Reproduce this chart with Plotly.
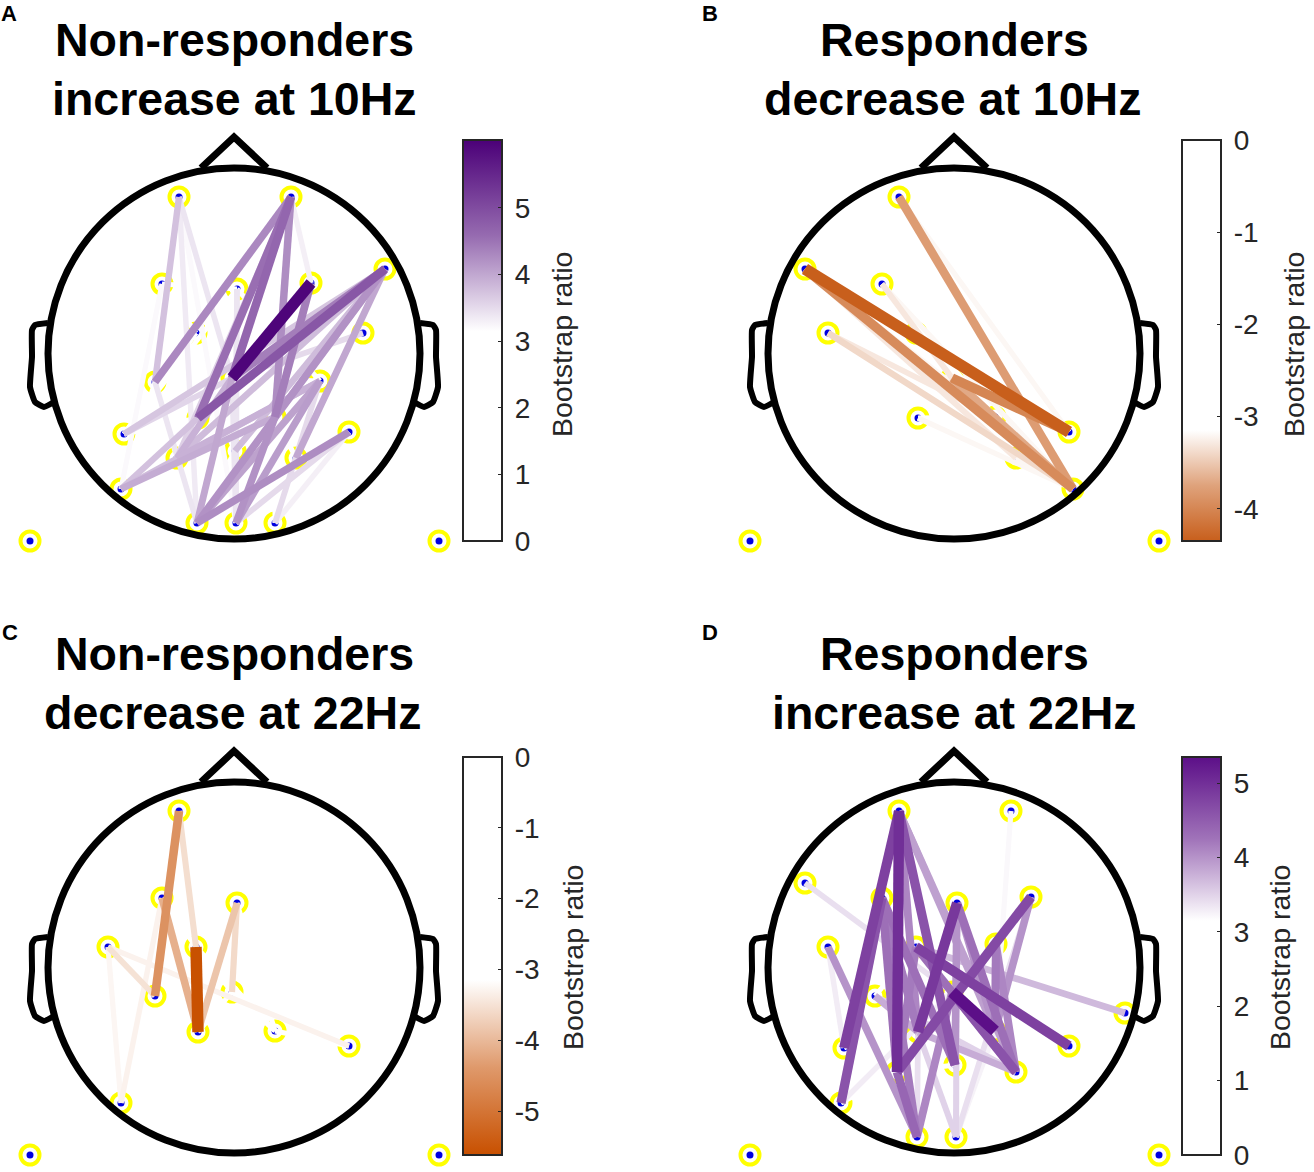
import numpy as np
import plotly.graph_objects as go

WIDTH = 1314
HEIGHT = 1172

# electrode positions, head centre = 0,0 and y pointing up
ELECTRODES = ["Fp1", "Fp2", "F7", "F3", "Fz", "F4", "F8", "T3", "C3", "C4", "T4", "CP5", "Cz", "CP6",
              "FT", "P7", "CP1", "CP2", "P8", "P3", "Pz", "P4", "PO7", "PO8", "O1", "Oz", "O2", "M1", "M2"]
ELECTRODE_X = [-55, 57, -149, -72, 3, 77, 151, -126, -38, 42, 129, -79, -2, 86,
               171, -110, -36, 41, 115, -57, 1, 62, -113, 119, -37, 2, 41, -204, 205]
ELECTRODE_Y = [157, 157, 85, 70, 65, 71, 85, 21, 21, 24, 21, -28, -24, -27,
               -45, -80, -64, -63, -78, -104, -97, -104, -135, -135, -169, -169, -169, -187, -187]

# head outline pieces
NOSE_X = [-33, 0, 33]
NOSE_Y = [186, 217, 186]
EAR_X = [-186, -199, -202, -202, -204, -199, -190, -180]
EAR_Y = [31, 29, 24, -3, -33, -48, -53, -48]

# edges, one list per panel: from, to, bootstrap ratio
# (values under the colour threshold come out white, they only nibble at the rings)
A_FROM = ["Fp1", "F3", "Fp1", "Fp2", "O2", "Oz", "Cz", "CP5", "Fp1", "Fp1", "P7", "Cz", "F8", "PO7", "PO7",
          "Cz", "CP6", "CP6", "F8", "F8", "F8", "Fp2", "P8", "Fp2", "F4", "F8", "Fp2", "Fp2", "F8", "F4",
          "F8", "Fp2", "F8", "CP6", "CP6", "O2", "Oz", "Oz", "P3", "Fz",
          "F3", "F3", "Fz", "Fz", "Fz", "C3", "C3", "C3", "CP5", "CP6", "CP6", "P7", "P3", "Pz", "Pz", "P4", "O1", "Oz", "O2", "PO7"]
A_TO = ["O1", "PO7", "Cz", "F4", "P8", "P8", "Oz", "O1", "CP5", "Oz", "Cz", "O1", "P3", "CP1", "CP2",
        "T4", "O1", "Oz", "P4", "O1", "Cz", "CP5", "O1", "CP2", "CP2", "CP1", "CP1", "Cz", "Pz", "Cz",
        "P7", "P3", "CP2", "P3", "PO7", "CP6", "CP2", "Fz", "Cz", "Pz",
        "Pz", "CP5", "P7", "P3", "F3", "CP5", "P7", "F3", "P3", "Fz", "Cz", "CP1", "CP1", "Cz", "CP2", "CP2", "Pz", "Pz", "CP2", "CP5"]
A_VALUES = [3.35, 3.2, 3.4, 3.3, 3.3, 3.5, 3.4, 3.4, 3.75, 3.2, 3.55, 4.0, 3.8, 3.75, 3.95,
            3.5, 4.05, 4.1, 4.0, 4.2, 4.4, 4.3, 4.25, 4.25, 4.4, 4.85, 4.55, 4.65, 3.8, 5.95,
            3.7, 3.6, 4.0, 3.9, 3.8, 3.5, 4.2, 3.4, 3.9, 3.4,
            2.9, 2.9, 2.9, 2.9, 2.9, 2.9, 2.9, 2.9, 2.9, 2.9, 2.9, 2.9, 2.9, 2.9, 2.9, 2.9, 2.9, 2.9, 2.9, 2.9]

B_FROM = ["Fp1", "CP1", "F3", "Cz", "F7", "T3", "F3", "T3", "C3", "Cz", "Fp1", "F7", "Cz", "F7", "F7", "P4",
          "CP1", "CP1", "C3", "Cz", "CP2", "P4"]
B_TO = ["P8", "PO8", "Cz", "CP2", "P4", "CP2", "PO8", "PO8", "CP2", "PO8", "PO8", "PO8", "P8", "P8", "CP2", "PO8",
        "P4", "CP2", "P4", "P4", "F3", "F3"]
B_VALUES = [-3.2, -3.2, -3.3, -3.2, -3.3, -3.3, -3.2, -3.4, -2.9, -3.7, -3.8, -3.95, -4.0, -4.35, -3.2, -3.2,
            -2.9, -2.9, -2.9, -2.9, -2.9, -2.9]

C_FROM = ["Cz", "T3", "T3", "F3", "T3", "Fp1", "Fz", "Fz", "F3", "Fp1", "C3", "CP2",
          "C3", "CP2", "CP2", "Cz", "F3"]
C_TO = ["CP2", "PO7", "P8", "PO7", "CP5", "C3", "Cz", "CP1", "CP1", "CP5", "CP1", "P8",
        "Cz", "C3", "Fz", "CP1", "C3"]
C_VALUES = [-2.9, -3.25, -3.3, -3.3, -3.5, -3.55, -3.6, -3.85, -4.1, -4.5, -5.6, -2.9,
            -2.9, -2.9, -2.9, -2.9, -2.9]

D_FROM = ["Fp2", "Oz", "T3", "F7", "PO7", "CP5", "O1", "Oz", "Fz", "TP", "CP1", "F4", "Fp1", "C4", "F3",
          "T3", "Cz", "C3", "Fz", "F3", "P3", "F4", "Fp1", "Cz", "Fz", "F4", "F3", "Fp1", "C3", "Fp1", "Cz",
          "Fp1", "F3", "F3", "Fp1", "Fz", "CP5", "Fz", "C4", "C3",
          "C3", "C4", "C3", "C4", "P7", "Pz", "PO7", "CP5"]
D_TO = ["CP2", "CP2", "P7", "Cz", "Cz", "P4", "CP1", "CP1", "Oz", "C3", "P4", "CP2", "CP2", "CP2", "P3",
        "O1", "O1", "P4", "P4", "O1", "O1", "Oz", "Pz", "P4", "CP1", "P3", "PO7", "P7", "P8", "P3", "CP2",
        "P4", "Pz", "CP1", "CP1", "Pz", "CP1", "CP2", "P4", "P3",
        "Cz", "Cz", "CP1", "P4", "Cz", "P3", "P3", "C3"]
D_VALUES = [3.2, 3.25, 3.3, 3.4, 3.3, 3.5, 3.4, 3.5, 3.5, 3.7, 3.8, 4.0, 3.9, 4.2, 4.3,
            4.0, 4.1, 4.3, 4.3, 4.2, 4.4, 3.4, 4.6, 4.6, 4.9, 4.7, 4.6, 4.8, 4.8, 5.0, 5.35,
            3.9, 4.3, 4.2, 4.1, 4.0, 3.8, 4.0, 4.1, 4.2,
            2.9, 2.9, 2.9, 2.9, 2.9, 2.9, 2.9, 2.9]

PANELS = [
    {"letter": "A", "letter_xy": (9, 14), "title": ["Non-responders", "increase at 10Hz"], "title_x": [234, 234],
     "cx": 234, "cy": 354, "edges": (A_FROM, A_TO, A_VALUES), "label_xy": (562, 345),
     "cmax": 6.02, "dark": "#4b0078", "ticks": [0, 1, 2, 3, 4, 5], "bar_x": 463, "bar_top": 140, "bar_bottom": 541},
    {"letter": "B", "letter_xy": (710, 14), "title": ["Responders", "decrease at 10Hz"], "title_x": [954, 952],
     "cx": 954, "cy": 354, "edges": (B_FROM, B_TO, B_VALUES), "label_xy": (1294, 345),
     "cmax": 4.35, "dark": "#c85f1c", "ticks": [0, -1, -2, -3, -4], "bar_x": 1182, "bar_top": 140, "bar_bottom": 541},
    {"letter": "C", "letter_xy": (10, 632), "title": ["Non-responders", "decrease at 22Hz"], "title_x": [234, 232],
     "cx": 234, "cy": 968, "edges": (C_FROM, C_TO, C_VALUES), "label_xy": (573, 958),
     "cmax": 5.62, "dark": "#c85000", "ticks": [0, -1, -2, -3, -4, -5], "bar_x": 463, "bar_top": 757, "bar_bottom": 1155},
    {"letter": "D", "letter_xy": (710, 632), "title": ["Responders", "increase at 22Hz"], "title_x": [954, 954],
     "cx": 954, "cy": 968, "edges": (D_FROM, D_TO, D_VALUES), "label_xy": (1280, 958),
     "cmax": 5.35, "dark": "#5c0f88", "ticks": [0, 1, 2, 3, 4, 5], "bar_x": 1182, "bar_top": 757, "bar_bottom": 1155},
]

THRESHOLD = 3.15
FONT = "Liberation Sans"
INK = "#262626"


def hex_rgb(c):
    return np.array([int(c[i:i + 2], 16) for i in (1, 3, 5)], dtype=float)


def mix(t, dark):
    # colormap darkens a bit faster in the first half
    m = np.interp(t, [0, 0.5, 1], [0, 0.58, 1])
    rgb = (1 - m) * np.array([255.0, 255.0, 255.0]) + m * hex_rgb(dark)
    return "rgb(%d,%d,%d)" % tuple(rgb)


def ramp(value, cmax):
    return max(0.0, (abs(value) - THRESHOLD) / (cmax - THRESHOLD))


def px_note(text, x, y, size, color, angle=0):
    return dict(text=text, xref="paper", yref="paper", showarrow=False, x=x / WIDTH, y=1 - y / HEIGHT,
                xanchor="center", yanchor="middle", textangle=angle, font=dict(family=FONT, size=size, color=color))


fig = go.Figure()
shapes = []
annotations = []
pos = dict(zip(ELECTRODES, zip(ELECTRODE_X, ELECTRODE_Y)))
pos["TP"] = pos["FT"]

for i, p in enumerate(PANELS):
    n = "" if i == 0 else str(i + 1)
    xa, ya = "x" + n, "y" + n
    cx, cy = p["cx"], p["cy"]
    # one axis per panel, 1 data unit = 1 pixel
    left, right = cx - 234, cx + 236
    top, bottom = cy - 230, cy + 204
    fig.layout["xaxis" + n] = dict(domain=[left / WIDTH, right / WIDTH], range=[-234, 236],
                                   visible=False, fixedrange=True)
    fig.layout["yaxis" + n] = dict(domain=[1 - bottom / HEIGHT, 1 - top / HEIGHT], range=[-204, 230],
                                   visible=False, fixedrange=True)

    src, dst, vals = p["edges"]
    used = [e for e in ELECTRODES if e in src or e in dst or e in ("M1", "M2")]
    if "TP" in src + dst:
        used.append("TP")
    ux = [pos[e][0] for e in used]
    uy = [pos[e][1] for e in used]

    fig.add_trace(go.Scatter(x=ux, y=uy, xaxis=xa, yaxis=ya, mode="markers", hoverinfo="skip", showlegend=False,
                             marker=dict(size=19, color="white", line=dict(width=4, color="#ffff00"))))
    fig.add_trace(go.Scatter(x=ux, y=uy, xaxis=xa, yaxis=ya, mode="markers", hoverinfo="skip", showlegend=False,
                             marker=dict(size=7, color="#0000e0")))

    for j in np.argsort(np.abs(vals)):
        a, b, v = src[j], dst[j], vals[j]
        t = ramp(v, p["cmax"])
        fig.add_trace(go.Scatter(x=[pos[a][0], pos[b][0]], y=[pos[a][1], pos[b][1]], xaxis=xa, yaxis=ya,
                                 mode="lines", hoverinfo="skip", showlegend=False,
                                 line=dict(color=mix(t, p["dark"]), width=5 + 6.5 * t)))

    # head
    shapes.append(dict(type="circle", xref=xa, yref=ya, x0=-186, x1=186, y0=-185, y1=186, layer="above",
                       line=dict(color="black", width=7)))
    fig.add_trace(go.Scatter(x=NOSE_X, y=NOSE_Y, xaxis=xa, yaxis=ya, mode="lines", hoverinfo="skip", showlegend=False,
                             line=dict(color="black", width=7)))
    for sign in (1, -1):
        fig.add_trace(go.Scatter(x=[sign * v for v in EAR_X], y=EAR_Y, xaxis=xa, yaxis=ya, mode="lines",
                                 hoverinfo="skip", showlegend=False,
                                 line=dict(color="black", width=6, shape="spline", smoothing=0.4)))

    # colour bar
    positive = p["ticks"][-1] > 0
    cmin, cmax = (0, p["cmax"]) if positive else (-p["cmax"], 0)
    lim = THRESHOLD / p["cmax"]
    mid = lim + 0.5 * (1 - lim)
    if positive:
        scale = [[0, "white"], [lim, "white"], [mid, mix(0.5, p["dark"])], [1, mix(1, p["dark"])]]
    else:
        scale = [[0, mix(1, p["dark"])], [1 - mid, mix(0.5, p["dark"])], [1 - lim, "white"], [1, "white"]]
    bar_len = (p["bar_bottom"] - p["bar_top"]) / HEIGHT
    fig.add_trace(go.Scatter(
        x=[0, 0], y=[0, 0], xaxis=xa, yaxis=ya, mode="markers", hoverinfo="skip", showlegend=False,
        marker=dict(size=1, opacity=0, color=[cmin, cmax], cmin=cmin, cmax=cmax, colorscale=scale, showscale=True,
                    colorbar=dict(x=p["bar_x"] / WIDTH, xanchor="left", y=1 - p["bar_bottom"] / HEIGHT, yanchor="bottom",
                                  len=bar_len, lenmode="fraction", thickness=39, thicknessmode="pixels",
                                  xpad=0, ypad=0, outlinewidth=2, outlinecolor=INK, borderwidth=0,
                                  tickmode="array", tickvals=p["ticks"],
                                  ticktext=["\u2009" + str(t) for t in p["ticks"]],
                                  ticks="inside", ticklen=5, tickcolor=INK, tickwidth=1,
                                  tickfont=dict(family=FONT, size=28, color=INK)))))

    # titles, colour bar label and panel letter
    for k, line in enumerate(p["title"]):
        annotations.append(px_note("<b>%s</b>" % line, p["title_x"][k], cy - 314 + 59 * k, 46.5, "black"))
    annotations.append(px_note("Bootstrap ratio", p["label_xy"][0], p["label_xy"][1], 28.5, INK, angle=-90))
    annotations.append(px_note("<b>%s</b>" % p["letter"], p["letter_xy"][0], p["letter_xy"][1], 22, "black"))

fig.update_layout(width=WIDTH, height=HEIGHT, margin=dict(l=0, r=0, t=0, b=0), paper_bgcolor="white",
                  plot_bgcolor="white", showlegend=False, shapes=shapes, annotations=annotations)

fig.write_html("out.html", config={"displayModeBar": False}, post_script="document.body.style.margin='0';")
